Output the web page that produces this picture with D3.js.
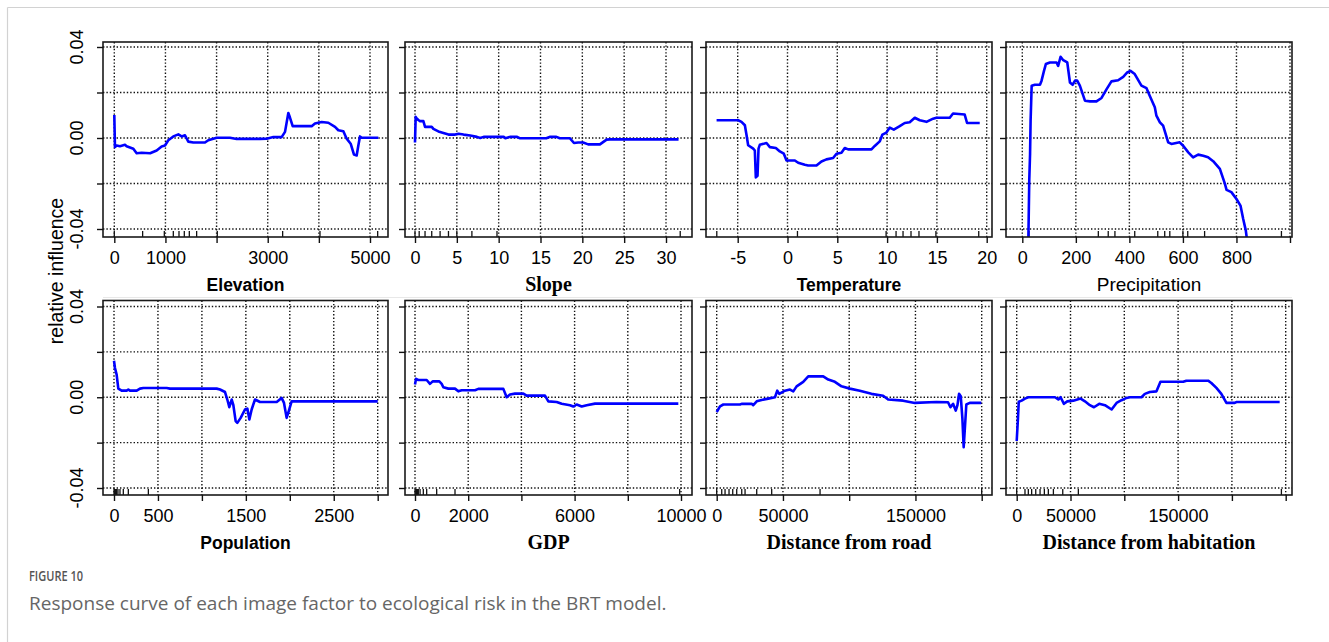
<!DOCTYPE html>
<html>
  <head>
    <meta charset="utf-8" />
    <title>Response curves of each factor (BRT)</title>
    <style>
      body { margin: 0; background: #fff; }
      svg { display: block; }
    </style>
  </head>
  <body>
    <svg id="chart" width="1329" height="642"></svg>
    <script src="https://d3js.org/d3.v7.min.js"></script>
    <script>
      // shared y axis
      const yTicks = [-0.04, -0.02, 0, 0.02, 0.04];
      const yTickLabels = ["-0.04", "", "0.00", "", "0.04"];

      // Elevation
      const elevX = [0, 13, 46, 111, 209, 241, 372, 437, 535, 700, 828, 926, 991, 1056, 1154, 1252, 1317, 1382, 1447, 1545, 1773, 1838, 2001, 2262, 2392, 2849, 2979, 3110, 3272, 3338, 3403, 3435, 3488, 3859, 3924, 4055, 4185, 4316, 4381, 4479, 4544, 4622, 4687, 4739, 4772, 4804, 4837, 5163];
      const elevY = [0.0101, -0.004, -0.0033, -0.0036, -0.003, -0.0036, -0.0047, -0.0067, -0.0065, -0.0067, -0.0055, -0.0037, -0.0033, -0.001, 0.0007, 0.0016, 0.0007, 0.0012, -0.0016, -0.002, -0.002, -0.001, 0.0001, 0.0001, -0.0004, -0.0004, -0.0003, 0.0004, 0.0004, 0.0027, 0.011, 0.009, 0.0052, 0.0052, 0.0064, 0.007, 0.0067, 0.0049, 0.0034, 0.003, -0.0003, -0.0025, -0.0073, -0.0077, -0.0033, 0.0007, 0.0001, 0.0001];
      const elevRug = [0, 554, 978, 1154, 1265, 1369, 1467, 1610, 2014, 3292, 4022, 5150];
      const elevTicks = [0, 1000, 2000, 3000, 4000, 5000];
      const elevTickLabels = ["0", "1000", "", "3000", "", "5000"];

      // Slope
      const slopeX = [0, 0.08, 0.2, 0.4, 0.6, 1.0, 1.2, 2.0, 2.2, 2.8, 3.4, 4.0, 4.8, 5.2, 5.8, 6.6, 7.4, 7.8, 8.2, 10.6, 10.8, 11.4, 12.2, 12.5, 15.7, 16.1, 16.9, 17.3, 18.5, 19.0, 19.5, 20.1, 20.7, 22.1, 22.9, 23.3, 31.5];
      const slopeY = [-0.002, 0.0093, 0.0086, 0.0079, 0.0074, 0.0074, 0.0049, 0.0049, 0.004, 0.0029, 0.0022, 0.0015, 0.0015, 0.0019, 0.0015, 0.0011, 0.0005, 0, 0.0005, 0.0005, -0.0001, 0.0005, 0.0005, -0.0001, -0.0001, 0.0005, 0.0005, -0.0001, -0.0001, -0.0022, -0.002, -0.002, -0.0028, -0.0028, -0.0007, -0.0006, -0.0006];
      const slopeRug = [0, 0.5, 1.2, 2, 3, 4, 5, 6.8, 9.8, 31.7];
      const slopeTicks = [0, 5, 10, 15, 20, 25, 30];
      const slopeTickLabels = ["0", "5", "10", "15", "20", "25", "30"];

      // Temperature
      const tempX = [-7.12, -4.95, -4.62, -4.28, -4.11, -3.95, -3.44, -3.28, -3.18, -3.01, -2.91, -2.78, -2.11, -1.77, -1.17, -0.77, -0.37, -0.1, 0.74, 1.07, 1.74, 2.07, 2.91, 3.41, 3.91, 4.58, 4.92, 5.42, 5.75, 6.09, 8.43, 8.76, 9.26, 9.53, 9.93, 10.27, 10.67, 11.27, 11.77, 12.27, 12.78, 13.28, 13.95, 14.62, 14.95, 16.29, 16.62, 17.79, 18.03, 19.3];
      const tempY = [0.0078, 0.0078, 0.0071, 0.0056, 0.0012, -0.0032, -0.0047, -0.0055, -0.0173, -0.0166, -0.0047, -0.003, -0.0022, -0.004, -0.0044, -0.0059, -0.0069, -0.0099, -0.0099, -0.0109, -0.0118, -0.0121, -0.0121, -0.0103, -0.0094, -0.0088, -0.0069, -0.0065, -0.0044, -0.005, -0.005, -0.0035, -0.0015, 0.0015, 0.0024, 0.0046, 0.0037, 0.0052, 0.0066, 0.0069, 0.0089, 0.0078, 0.0071, 0.0085, 0.0089, 0.0089, 0.0108, 0.0103, 0.0066, 0.0066];
      const tempRug = [-7.1, 1.0, 9.9, 10.9, 11.6, 12.4, 13.2, 14.9, 19.2];
      const tempTicks = [-5, 0, 5, 10, 15, 20];
      const tempTickLabels = ["-5", "0", "5", "10", "15", "20"];

      // Precipitation
      const precX = [22, 26, 29, 31, 35, 47, 66, 72, 81, 88, 103, 128, 134, 143, 153, 168, 178, 188, 197, 205, 215, 234, 253, 277, 296, 315, 333, 358, 377, 392, 404, 420, 445, 464, 476, 495, 501, 514, 526, 545, 557, 588, 601, 620, 638, 657, 676, 694, 713, 738, 757, 763, 781, 800, 815, 825, 835, 845];
      const precY = [-0.05, -0.0187, -0.007, 0.0076, 0.023, 0.0234, 0.0234, 0.0252, 0.0295, 0.0325, 0.0332, 0.0332, 0.0317, 0.0357, 0.0342, 0.0332, 0.0244, 0.0234, 0.0252, 0.0252, 0.023, 0.0164, 0.0161, 0.0161, 0.0176, 0.0215, 0.0249, 0.0254, 0.0269, 0.0288, 0.0295, 0.0281, 0.023, 0.0219, 0.0186, 0.0135, 0.0098, 0.0069, 0.0054, -0.0019, -0.0026, -0.0019, -0.0034, -0.0063, -0.0085, -0.0073, -0.0078, -0.0085, -0.0102, -0.0136, -0.0202, -0.0228, -0.0238, -0.0268, -0.0297, -0.0355, -0.0407, -0.05];
      const precRug = [25, 284, 321, 346, 420, 506, 532, 551, 600, 618, 681, 968];
      const precTicks = [0, 200, 400, 600, 800, 1000];
      const precTickLabels = ["0", "200", "400", "600", "800", ""];

      // Population
      const popX = [0, 11, 30, 49, 87, 144, 163, 182, 258, 296, 334, 599, 637, 1168, 1206, 1263, 1289, 1312, 1339, 1358, 1384, 1403, 1441, 1490, 1517, 1540, 1566, 1604, 1661, 1851, 1907, 1934, 1964, 1987, 2021, 3000];
      const popY = [0.0161, 0.0129, 0.01, 0.0038, 0.0029, 0.0029, 0.0034, 0.0029, 0.0029, 0.0038, 0.0041, 0.0041, 0.0038, 0.0038, 0.0034, 0.0023, -0.001, -0.0044, -0.001, -0.0035, -0.0105, -0.0113, -0.0091, -0.0054, -0.005, -0.0098, -0.0054, -0.001, -0.0021, -0.0021, -0.0003, -0.0025, -0.0091, -0.0062, -0.0018, -0.0018];
      const popRug = [0, 8, 15, 23, 30, 45, 68, 106, 163, 391];
      const popTicks = [0, 500, 1000, 1500, 2000, 2500, 3000];
      const popTickLabels = ["0", "500", "", "1500", "", "2500", ""];

      // GDP
      const gdpX = [0, 38, 125, 439, 564, 664, 915, 1003, 1065, 1253, 1504, 1629, 1754, 2256, 2381, 3321, 3446, 3571, 3759, 4073, 4198, 4887, 5013, 5326, 5514, 5827, 5952, 6078, 6266, 6454, 6767, 9900];
      const gdpY = [0.0056, 0.0081, 0.0076, 0.0076, 0.0059, 0.007, 0.007, 0.0059, 0.0044, 0.0038, 0.0038, 0.0026, 0.0031, 0.0031, 0.0037, 0.0037, 0, 0.0012, 0.0016, 0.0016, 0.0007, 0.0007, -0.0018, -0.0021, -0.0029, -0.0035, -0.0041, -0.0032, -0.0041, -0.0035, -0.0028, -0.0028];
      const gdpRug = [0, 30, 60, 90, 125, 190, 313, 439, 815, 1504, 9950];
      const gdpTicks = [0, 2000, 4000, 6000, 8000, 10000];
      const gdpTickLabels = ["0", "2000", "", "6000", "", "10000"];

      // Distance from road
      const roadX = [0, 2500, 5000, 17600, 18800, 26400, 27600, 30200, 33900, 38900, 44000, 45700, 47200, 51500, 55300, 57800, 60300, 65300, 69100, 80400, 84200, 89200, 94200, 100500, 108000, 116800, 125600, 129400, 140700, 149500, 165800, 174600, 176400, 178400, 180400, 181700, 182900, 184200, 185400, 186400, 187400, 188400, 191000, 199700];
      const roadY = [-0.0065, -0.004, -0.0032, -0.0032, -0.0029, -0.0029, -0.0035, -0.0018, -0.0012, -0.0006, 0, 0.0029, 0.0015, 0.0029, 0.0034, 0.0026, 0.0048, 0.0068, 0.0092, 0.0092, 0.0078, 0.0068, 0.0048, 0.0038, 0.0029, 0.0015, 0.0007, -0.001, -0.0015, -0.0025, -0.0021, -0.0022, -0.0044, -0.0029, -0.0059, -0.0035, 0.0015, 0.0004, -0.0091, -0.022, -0.0128, -0.0032, -0.0025, -0.0025];
      const roadRug = [0, 3800, 6300, 9300, 12100, 15100, 18900, 21400, 30200, 41500, 78000, 200000];
      const roadTicks = [0, 50000, 100000, 150000, 200000];
      const roadTickLabels = ["0", "50000", "", "150000", ""];

      // Distance from habitation
      const habX = [0, 1200, 1900, 4600, 7700, 10800, 35600, 38700, 40800, 43900, 47000, 52600, 59400, 63400, 68000, 71800, 76700, 82000, 88200, 92800, 97400, 102100, 105200, 116000, 119100, 123700, 129900, 133600, 154700, 157700, 177900, 180900, 185600, 190200, 194900, 202600, 204100, 244400];
      const habY = [-0.0193, -0.0091, -0.002, -0.0015, -0.0006, 0, 0, -0.001, 0, -0.0029, -0.0018, -0.0015, -0.0006, -0.0018, -0.0035, -0.0044, -0.0029, -0.0035, -0.0054, -0.0025, -0.0013, -0.0003, 0, 0, 0.0015, 0.0023, 0.0026, 0.0068, 0.0068, 0.0073, 0.0073, 0.0063, 0.0041, 0.0015, -0.0025, -0.0025, -0.0021, -0.0021];
      const habRug = [0, 7700, 10800, 13900, 17700, 21700, 25700, 29400, 34100, 42800, 57300, 246000];
      const habTicks = [0, 50000, 100000, 150000, 200000, 250000];
      const habTickLabels = ["0", "50000", "", "150000", "", ""];

      const SANS = "'Liberation Sans', Arial, sans-serif";
      const SERIF = "'Liberation Serif', 'Times New Roman', serif";
      const CAPTION = "'Open Sans', 'Noto Sans', sans-serif";

      // layout: pixel columns / rows of the panel boxes
      const cols = [
        { left: 103, right: 388 },
        { left: 405, right: 692 },
        { left: 706, right: 992 },
        { left: 1006, right: 1292 },
      ];
      const rows = [
        { top: 42, bottom: 237, yHi: 47, yLo: 229 },
        { top: 300.5, bottom: 495, yHi: 306.5, yLo: 488 },
      ];

      // x scale anchors: first and last tick -> pixel
      const panels = [
        { title: "Elevation", font: SANS, weight: "bold", size: 17.5, col: 0, row: 0, xs: elevX, ys: elevY, rug: elevRug, ticks: elevTicks, labels: elevTickLabels, range: [114.3, 370] },
        { title: "Slope", font: SERIF, weight: "bold", size: 20, col: 1, row: 0, xs: slopeX, ys: slopeY, rug: slopeRug, ticks: slopeTicks, labels: slopeTickLabels, range: [415, 666] },
        { title: "Temperature", font: SANS, weight: "bold", size: 17.5, col: 2, row: 0, xs: tempX, ys: tempY, rug: tempRug, ticks: tempTicks, labels: tempTickLabels, range: [737.7, 986.7] },
        { title: "Precipitation", font: SANS, weight: "normal", size: 19, col: 3, row: 0, xs: precX, ys: precY, rug: precRug, ticks: precTicks, labels: precTickLabels, range: [1022.3, 1290] },
        { title: "Population", font: SANS, weight: "bold", size: 17.5, col: 0, row: 1, xs: popX, ys: popY, rug: popRug, ticks: popTicks, labels: popTickLabels, range: [114, 377.7] },
        { title: "GDP", font: SERIF, weight: "bold", size: 20, col: 1, row: 1, xs: gdpX, ys: gdpY, rug: gdpRug, ticks: gdpTicks, labels: gdpTickLabels, range: [415, 681] },
        { title: "Distance from road", font: SERIF, weight: "bold", size: 20, col: 2, row: 1, xs: roadX, ys: roadY, rug: roadRug, ticks: roadTicks, labels: roadTickLabels, range: [716.7, 981.7] },
        { title: "Distance from habitation", font: SERIF, weight: "bold", size: 20, col: 3, row: 1, xs: habX, ys: habY, rug: habRug, ticks: habTicks, labels: habTickLabels, range: [1016.7, 1285.7] },
      ];

      const svg = d3.select("#chart");

      // page frame
      svg.append("line").attr("x1", 7.5).attr("x2", 1329).attr("y1", 7.5).attr("y2", 7.5)
        .attr("stroke", "#d2d2d2").attr("stroke-width", 1.2);
      svg.append("line").attr("x1", 7.5).attr("x2", 7.5).attr("y1", 7.5).attr("y2", 642)
        .attr("stroke", "#d2d2d2").attr("stroke-width", 1.2);

      panels.forEach(function (p, i) {
        const c = cols[p.col], r = rows[p.row];
        const x = d3.scaleLinear()
          .domain([p.ticks[0], p.ticks[p.ticks.length - 1]])
          .range(p.range);
        const y = d3.scaleLinear().domain([-0.04, 0.04]).range([r.yLo, r.yHi]);

        const g = svg.append("g");

        g.append("clipPath").attr("id", "clip" + i)
          .append("rect")
          .attr("x", c.left).attr("y", r.top)
          .attr("width", c.right - c.left).attr("height", r.bottom - r.top);

        // dotted grid
        g.selectAll(".vgrid").data(p.ticks).join("line")
          .attr("x1", (d) => x(d)).attr("x2", (d) => x(d))
          .attr("y1", r.top).attr("y2", r.bottom)
          .attr("stroke", "#111").attr("stroke-width", 1.4)
          .attr("stroke-dasharray", "1.4,2");
        g.selectAll(".hgrid").data(yTicks).join("line")
          .attr("x1", c.left).attr("x2", c.right)
          .attr("y1", (d) => y(d)).attr("y2", (d) => y(d))
          .attr("stroke", "#111").attr("stroke-width", 1.4)
          .attr("stroke-dasharray", "1.4,2");

        // rug (deciles)
        g.selectAll(".rug").data(p.rug).join("line")
          .attr("x1", (d) => x(d)).attr("x2", (d) => x(d))
          .attr("y1", r.bottom).attr("y2", r.bottom - 6)
          .attr("stroke", "#111").attr("stroke-width", 1.3);

        // response curve
        const pts = p.xs.map((v, k) => [v, p.ys[k]]);
        g.append("path")
          .datum(pts)
          .attr("clip-path", "url(#clip" + i + ")")
          .attr("fill", "none")
          .attr("stroke", "#0000ff")
          .attr("stroke-width", 2.6)
          .attr("stroke-linejoin", "round")
          .attr("d", d3.line().x((d) => x(d[0])).y((d) => y(d[1])));

        // box
        g.append("rect")
          .attr("x", c.left).attr("y", r.top)
          .attr("width", c.right - c.left).attr("height", r.bottom - r.top)
          .attr("fill", "none").attr("stroke", "#1a1a1a").attr("stroke-width", 1.6);

        // x axis
        const xa = g.append("g")
          .attr("transform", "translate(0," + r.bottom + ")")
          .call(d3.axisBottom(x).tickValues(p.ticks)
            .tickFormat((d, k) => p.labels[k]).tickSize(6).tickPadding(8.5));
        xa.select(".domain").remove();
        xa.selectAll("line").attr("stroke", "#111").attr("stroke-width", 1.4);
        xa.selectAll("text").attr("font-family", SANS).attr("font-size", 18).attr("fill", "#000");

        // y axis ticks (labels only in first column)
        const ya = g.append("g")
          .attr("transform", "translate(" + c.left + ",0)")
          .call(d3.axisLeft(y).tickValues(yTicks).tickFormat("").tickSize(6));
        ya.select(".domain").remove();
        ya.selectAll("line").attr("stroke", "#111").attr("stroke-width", 1.4);

        if (p.col === 0) {
          g.selectAll(".ylab").data(yTicks).join("text")
            .attr("transform", (d) => "translate(" + (c.left - 20) + "," + y(d) + ") rotate(-90)")
            .attr("text-anchor", "middle")
            .attr("font-family", SANS).attr("font-size", 18).attr("fill", "#000")
            .text((d, k) => yTickLabels[k]);
        }

        // x title
        g.append("text")
          .attr("x", (c.left + c.right) / 2)
          .attr("y", r.bottom + 53.5)
          .attr("text-anchor", "middle")
          .attr("font-family", p.font).attr("font-weight", p.weight)
          .attr("font-size", p.size).attr("fill", "#000")
          .text(p.title);
      });

      // faint seam below the top row
      svg.append("line").attr("x1", 103).attr("x2", 1292).attr("y1", 297.5).attr("y2", 297.5)
        .attr("stroke", "#e8e8e8").attr("stroke-width", 1);

      // shared y label
      svg.append("text")
        .attr("transform", "translate(63,271) rotate(-90)")
        .attr("text-anchor", "middle")
        .attr("font-family", SANS).attr("font-size", 19.5).attr("fill", "#000")
        .text("relative influence");

      // caption
      svg.append("text")
        .attr("x", 29).attr("y", 580.5)
        .attr("font-family", CAPTION).attr("font-weight", 600)
        .attr("font-size", 14).attr("fill", "#555")
        .attr("textLength", 54).attr("lengthAdjust", "spacingAndGlyphs")
        .text("FIGURE 10");
      svg.append("text")
        .attr("x", 29).attr("y", 609.5)
        .attr("font-family", CAPTION)
        .attr("font-size", 19).attr("fill", "#666")
        .text("Response curve of each image factor to ecological risk in the BRT model.");
    </script>
  </body>
</html>
